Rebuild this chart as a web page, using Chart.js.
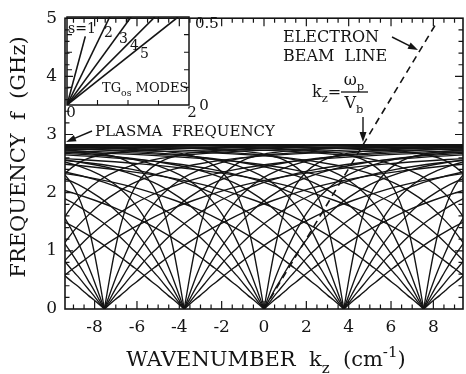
<!DOCTYPE html>
<html>
<head>
<meta charset="utf-8">
<script src="https://cdn.jsdelivr.net/npm/chart.js@4.4.0/dist/chart.umd.min.js"></script>
<style>
html, body { margin: 0; padding: 0; background: #fff; }
#wrap { position: relative; width: 466px; height: 374px; }
#wrap canvas { position: absolute; left: 0; top: 0; }
</style>
</head>
<body>
<div id="wrap">
<canvas id="main" width="466" height="374"></canvas>
<canvas id="inset" width="466" height="374"></canvas>
</div>
<script>
// space-harmonic centres (cm^-1), where the mode fans touch zero
const harmonicCenters = [-11.31, -7.54, -3.77, 0, 3.77, 7.54, 11.31];
// distance from the centre (cm^-1) and read frequency (GHz) for each TG0s mode
const offsets = [0, 0.25, 0.5, 0.75, 1, 1.25, 1.5, 2, 2.5, 3, 3.5, 4, 5, 6, 7, 8, 10, 12, 14, 17, 20, 24];
const tm1 = [0, 0.53, 1.01, 1.41, 1.72, 1.95, 2.13, 2.36, 2.50, 2.59, 2.64, 2.68, 2.72, 2.74, 2.76, 2.77, 2.78, 2.79, 2.80, 2.80, 2.81, 2.81];
const tm2 = [0, 0.25, 0.50, 0.73, 0.95, 1.15, 1.33, 1.64, 1.88, 2.06, 2.20, 2.31, 2.46, 2.56, 2.62, 2.66, 2.71, 2.74, 2.76, 2.77, 2.78, 2.79];
const tm3 = [0, 0.16, 0.33, 0.48, 0.64, 0.79, 0.93, 1.19, 1.42, 1.61, 1.78, 1.92, 2.14, 2.29, 2.40, 2.48, 2.59, 2.65, 2.69, 2.72, 2.75, 2.77];
const tm4 = [0, 0.11, 0.23, 0.34, 0.45, 0.56, 0.66, 0.87, 1.05, 1.23, 1.39, 1.53, 1.77, 1.96, 2.11, 2.23, 2.40, 2.51, 2.58, 2.65, 2.69, 2.73];
const tm5 = [0, 0.08, 0.16, 0.23, 0.31, 0.39, 0.46, 0.61, 0.75, 0.89, 1.02, 1.15, 1.37, 1.56, 1.73, 1.87, 2.10, 2.26, 2.37, 2.49, 2.57, 2.64];
const modes = [tm1, tm2, tm3, tm4, tm5];

const plasmaK = [-9.4, 9.4];
const plasmaF = [2.82, 2.82];
const beamK = [0, 8.15];
const beamF = [0, 4.92];

const xTicks = [-8, -6, -4, -2, 0, 2, 4, 6, 8];
const yTicks = [0, 1, 2, 3, 4, 5];

// inset: TG0s modes near k = 0
const insetModes = ["s=1", "2", "3", "4", "5"];
const insetEndX = [0.30, 0.70, 1.05, 1.44, 1.82];
const insetEndY = [0.39, 0.50, 0.50, 0.50, 0.50];

const SERIF = "'DejaVu Serif', serif";
const INK = "#141414";

function branch(center, dir, freqs) {
    const pts = offsets.map((d, i) => ({ x: center + dir * d, y: freqs[i] }));
    return dir < 0 ? pts.reverse() : pts;
}

const curveStyle = {
    showLine: true,
    borderColor: INK,
    borderWidth: 1.35,
    pointRadius: 0,
    cubicInterpolationMode: "monotone",
    fill: false
};

const datasets = [];
harmonicCenters.forEach(c => {
    modes.forEach(freqs => {
        datasets.push({ ...curveStyle, data: branch(c, -1, freqs) });
        datasets.push({ ...curveStyle, data: branch(c, 1, freqs) });
    });
});
datasets.push({
    ...curveStyle, borderWidth: 2,
    data: plasmaK.map((k, i) => ({ x: k, y: plasmaF[i] }))
});
datasets.push({
    ...curveStyle, borderWidth: 1.6, borderDash: [7, 5],
    data: beamK.map((k, i) => ({ x: k, y: beamF[i] }))
});

// text with sub/superscripts: parts = [[text, shift]], shift 1 = sub, -1 = sup
function rich(ctx, parts, x, y, size, align) {
    const fontOf = p => (p[1] ? size * 0.72 : size) + "px " + SERIF;
    let w = 0;
    parts.forEach(p => { ctx.font = fontOf(p); w += ctx.measureText(p[0]).width; });
    let cx = align === "center" ? x - w / 2 : x;
    parts.forEach(p => {
        ctx.font = fontOf(p);
        ctx.fillText(p[0], cx, y + p[1] * size * 0.38);
        cx += ctx.measureText(p[0]).width;
    });
}

function arrow(ctx, x1, y1, x2, y2) {
    const a = Math.atan2(y2 - y1, x2 - x1);
    ctx.beginPath();
    ctx.moveTo(x1, y1);
    ctx.lineTo(x2 - 6 * Math.cos(a), y2 - 6 * Math.sin(a));
    ctx.stroke();
    ctx.beginPath();
    ctx.moveTo(x2, y2);
    ctx.lineTo(x2 - 10 * Math.cos(a) + 3.5 * Math.sin(a), y2 - 10 * Math.sin(a) - 3.5 * Math.cos(a));
    ctx.lineTo(x2 - 10 * Math.cos(a) - 3.5 * Math.sin(a), y2 - 10 * Math.sin(a) + 3.5 * Math.cos(a));
    ctx.closePath();
    ctx.fill();
}

const mainDecor = {
    id: "mainDecor",
    afterDraw(chart) {
        const { ctx, chartArea: a, scales: { x, y } } = chart;
        ctx.save();
        ctx.strokeStyle = INK;
        ctx.fillStyle = INK;
        ctx.lineWidth = 1.6;
        ctx.strokeRect(a.left, a.top, a.right - a.left, a.bottom - a.top);

        // inward ticks on all four sides
        ctx.lineWidth = 1.2;
        ctx.beginPath();
        for (let v = -9; v <= 9.001; v += 0.5) {
            const px = x.getPixelForValue(v);
            const len = Math.abs(v % 2) < 1e-6 ? 8 : 4.5;
            ctx.moveTo(px, a.bottom); ctx.lineTo(px, a.bottom - len);
            ctx.moveTo(px, a.top); ctx.lineTo(px, a.top + len);
        }
        for (let v = 0.2; v < 5; v += 0.2) {
            const py = y.getPixelForValue(v);
            const len = Math.abs(v - Math.round(v)) < 1e-6 ? 8 : 4.5;
            ctx.moveTo(a.left, py); ctx.lineTo(a.left + len, py);
            ctx.moveTo(a.right, py); ctx.lineTo(a.right - len, py);
        }
        ctx.stroke();

        // axis titles
        ctx.textBaseline = "middle";
        ctx.textAlign = "left";
        rich(ctx, [["WAVENUMBER  k", 0], ["z", 1], ["  (cm", 0], ["-1", -1], [")", 0]], 266, 361, 21, "center");
        ctx.save();
        ctx.translate(20, 157);
        ctx.rotate(-Math.PI / 2);
        rich(ctx, [["FREQUENCY  f  (GHz)", 0]], 0, 0, 21, "center");
        ctx.restore();

        // annotations
        rich(ctx, [["PLASMA  FREQUENCY", 0]], 95, 132, 15);
        rich(ctx, [["ELECTRON", 0]], 283, 38, 16);
        rich(ctx, [["BEAM  LINE", 0]], 283, 57, 16);
        rich(ctx, [["k", 0], ["z", 1], ["=", 0]], 312, 93, 16);
        rich(ctx, [["ω", 0], ["p", 1]], 354, 81, 16, "center");
        rich(ctx, [["V", 0], ["b", 1]], 354, 104, 16, "center");
        ctx.lineWidth = 1.3;
        ctx.beginPath();
        ctx.moveTo(341, 92); ctx.lineTo(368, 92);
        ctx.stroke();

        ctx.lineWidth = 1.4;
        arrow(ctx, 92, 131, 66, 142);
        arrow(ctx, 392, 37, 418, 50);
        arrow(ctx, 363, 117, 363, 142);
        ctx.restore();
    }
};

new Chart(document.getElementById("main"), {
    type: "scatter",
    data: { datasets: datasets },
    options: {
        responsive: false,
        animation: false,
        events: [],
        layout: { padding: { top: 14, right: 3, left: 0, bottom: 0 } },
        plugins: { legend: { display: false }, tooltip: { enabled: false } },
        scales: {
            x: {
                type: "linear", min: -9.4, max: 9.4,
                afterBuildTicks: s => { s.ticks = xTicks.map(v => ({ value: v })); },
                afterFit: s => { s.height = 65; },
                grid: { display: false, drawTicks: false },
                border: { display: false },
                ticks: { color: INK, padding: 8, maxRotation: 0, font: { family: SERIF, size: 17 }, callback: v => String(v) }
            },
            y: {
                type: "linear", min: 0, max: 5,
                afterBuildTicks: s => { s.ticks = yTicks.map(v => ({ value: v })); },
                afterFit: s => { s.width = 65; },
                grid: { display: false, drawTicks: false },
                border: { display: false },
                ticks: { color: INK, padding: 8, font: { family: SERIF, size: 17 }, callback: v => String(v) }
            }
        }
    },
    plugins: [mainDecor]
});

const insetDecor = {
    id: "insetDecor",
    afterDraw(chart) {
        const { ctx, chartArea: a, scales: { x, y } } = chart;
        ctx.save();
        ctx.strokeStyle = INK;
        ctx.fillStyle = INK;
        ctx.lineWidth = 1.5;
        ctx.strokeRect(a.left, a.top, a.right - a.left, a.bottom - a.top);
        ctx.lineWidth = 1.1;
        ctx.beginPath();
        for (let v = 0.5; v < 2; v += 0.5) {
            const px = x.getPixelForValue(v);
            ctx.moveTo(px, a.bottom); ctx.lineTo(px, a.bottom - 5);
            ctx.moveTo(px, a.top); ctx.lineTo(px, a.top + 5);
        }
        for (let v = 0.1; v < 0.5; v += 0.1) {
            const py = y.getPixelForValue(v);
            ctx.moveTo(a.left, py); ctx.lineTo(a.left + 5, py);
            ctx.moveTo(a.right, py); ctx.lineTo(a.right - 5, py);
        }
        ctx.stroke();

        ctx.textBaseline = "middle";
        ctx.textAlign = "left";
        rich(ctx, [["0", 0]], 71, 113, 15, "center");
        rich(ctx, [["2", 0]], 192, 113, 15, "center");
        rich(ctx, [["0", 0]], 204, 106, 15, "center");
        rich(ctx, [["0.5", 0]], 195, 24, 15);
        const labelPos = [[68, 29], [104, 33], [119, 39], [130, 46], [140, 54]];
        insetModes.forEach((t, i) => rich(ctx, [[t, 0]], labelPos[i][0], labelPos[i][1], 14));
        rich(ctx, [["TG", 0], ["os", 1], [" MODES", 0]], 102, 89, 13);
        ctx.restore();
    }
};

new Chart(document.getElementById("inset"), {
    type: "scatter",
    data: {
        datasets: insetEndX.map((ex, i) => ({
            data: [{ x: 0, y: 0 }, { x: ex, y: insetEndY[i] }],
            showLine: true, borderColor: INK, borderWidth: 1.6, pointRadius: 0
        }))
    },
    options: {
        responsive: false,
        animation: false,
        events: [],
        layout: { padding: { left: 67, top: 17, right: 277, bottom: 269 } },
        plugins: { legend: { display: false }, tooltip: { enabled: false } },
        scales: {
            x: { display: false, min: 0, max: 2 },
            y: { display: false, min: 0, max: 0.5 }
        }
    },
    plugins: [insetDecor]
});
</script>
</body>
</html>
